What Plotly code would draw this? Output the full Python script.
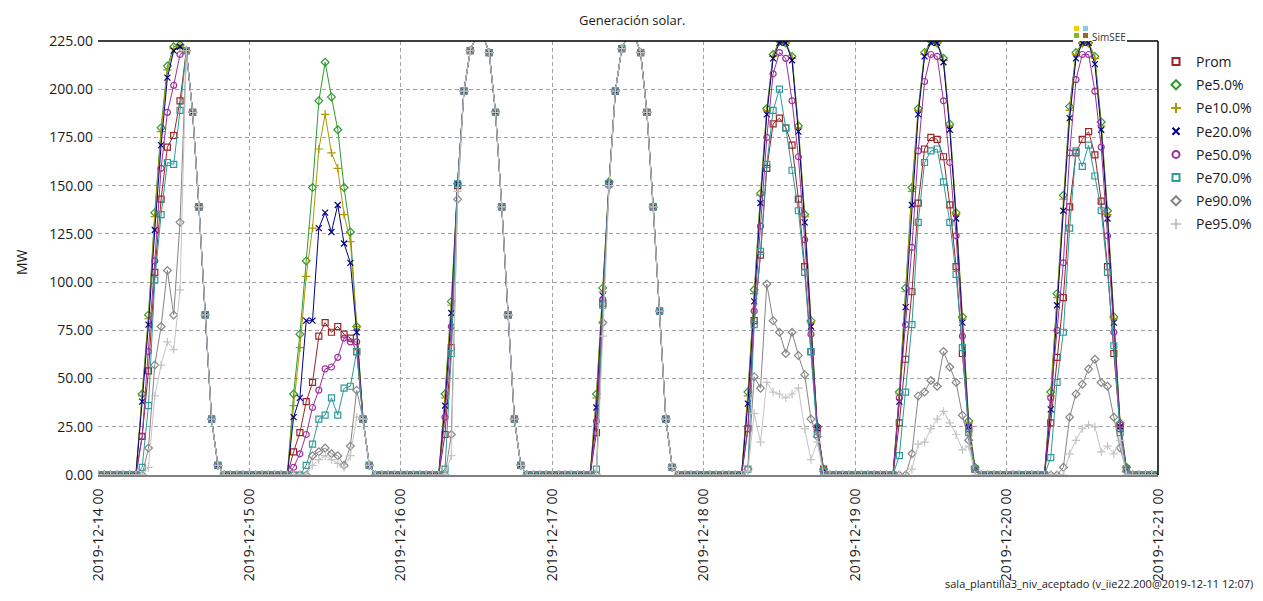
import plotly.graph_objects as go
import pandas as pd

# ---------------- data (MW, hourly) ----------------
DAYS = ["2019-12-14", "2019-12-15", "2019-12-16", "2019-12-17",
        "2019-12-18", "2019-12-19", "2019-12-20"]
END = "2019-12-21"
DAY_HOURS = list(range(6, 21))  # values listed for 06:00 .. 20:00; other hours are 0

prom = [
    [0, 20, 54, 105, 143, 170, 176, 194, 220, 188, 139, 83, 29, 5, 0],
    [0, 12, 22, 38, 48, 72, 79, 74, 77, 73, 71, 64, 29, 5, 0],
    [0, 21, 66, 150, 199, 220, 228, 228, 219, 188, 139, 83, 29, 5, 0],
    [0, 22, 89, 151, 199, 221, 228, 228, 219, 188, 139, 85, 29, 4, 0],
    [0, 24, 80, 114, 159, 182, 185, 180, 171, 143, 108, 64, 24, 3, 0],
    [0, 27, 60, 95, 141, 169, 175, 174, 165, 140, 108, 63, 24, 3, 0],
    [0, 27, 61, 92, 139, 167, 174, 178, 166, 142, 108, 63, 24, 3, 0],
]
pe5 = [
    [0, 42, 83, 136, 180, 212, 222, 223, 220, 188, 139, 83, 29, 5, 0],
    [0, 42, 73, 111, 149, 194, 214, 196, 179, 149, 126, 77, 29, 5, 0],
    [0, 42, 90, 151, 199, 220, 228, 228, 219, 188, 139, 83, 29, 5, 0],
    [0, 42, 97, 152, 199, 221, 228, 228, 219, 188, 139, 85, 29, 4, 0],
    [0, 43, 96, 146, 190, 218, 225, 224, 217, 181, 135, 80, 25, 3, 0],
    [0, 43, 97, 149, 190, 219, 225, 224, 216, 182, 136, 82, 28, 4, 0],
    [0, 43, 94, 145, 191, 219, 224, 224, 217, 183, 137, 82, 27, 4, 0],
]
pe10 = [
    [0, 41, 81, 134, 178, 210, 221, 222, 220, 188, 139, 83, 29, 5, 0],
    [0, 36, 66, 103, 128, 169, 187, 167, 159, 135, 121, 77, 29, 5, 0],
    [0, 40, 88, 151, 199, 220, 228, 228, 219, 188, 139, 83, 29, 5, 0],
    [0, 40, 95, 152, 199, 221, 228, 228, 219, 188, 139, 85, 29, 4, 0],
    [0, 41, 94, 145, 189, 217, 225, 224, 216, 180, 134, 79, 25, 3, 0],
    [0, 42, 95, 147, 189, 218, 225, 224, 215, 181, 135, 81, 27, 4, 0],
    [0, 41, 92, 143, 189, 218, 224, 224, 216, 181, 135, 81, 26, 4, 0],
]
pe20 = [
    [0, 38, 78, 127, 171, 206, 220, 222, 220, 188, 139, 83, 29, 5, 0],
    [0, 30, 40, 80, 80, 128, 136, 126, 140, 120, 110, 74, 29, 5, 0],
    [0, 36, 84, 151, 199, 220, 228, 228, 219, 188, 139, 83, 29, 5, 0],
    [0, 35, 93, 151, 199, 221, 228, 228, 219, 188, 139, 85, 29, 4, 0],
    [0, 37, 90, 141, 187, 216, 224, 224, 215, 178, 131, 77, 24, 2, 0],
    [0, 38, 87, 140, 187, 217, 224, 224, 214, 179, 133, 79, 25, 3, 0],
    [0, 34, 88, 137, 185, 216, 224, 224, 213, 179, 133, 79, 25, 3, 0],
]
pe50 = [
    [0, 20, 64, 111, 159, 188, 202, 218, 220, 188, 139, 83, 29, 5, 0],
    [0, 4, 11, 21, 35, 44, 55, 56, 61, 71, 69, 69, 29, 5, 0],
    [0, 30, 77, 151, 199, 220, 228, 228, 219, 188, 139, 83, 29, 5, 0],
    [0, 28, 91, 151, 199, 221, 228, 228, 219, 188, 139, 85, 29, 4, 0],
    [0, 24, 85, 129, 175, 208, 219, 216, 194, 165, 122, 73, 25, 2, 0],
    [0, 40, 78, 118, 168, 204, 218, 217, 194, 162, 124, 72, 24, 3, 0],
    [0, 40, 75, 110, 167, 205, 218, 218, 199, 170, 124, 74, 26, 3, 0],
]
pe70 = [
    [0, 4, 36, 101, 135, 162, 161, 189, 220, 188, 139, 83, 29, 5, 0],
    [0, 0, 0, 5, 16, 29, 31, 40, 31, 45, 46, 64, 29, 5, 0],
    [0, 3, 63, 151, 199, 220, 228, 228, 219, 188, 139, 83, 29, 5, 0],
    [0, 3, 88, 151, 199, 221, 228, 228, 219, 188, 139, 85, 29, 4, 0],
    [0, 3, 78, 116, 161, 189, 200, 180, 158, 137, 105, 64, 21, 2, 0],
    [0, 10, 43, 78, 131, 162, 168, 169, 152, 131, 104, 66, 22, 3, 0],
    [0, 9, 48, 74, 128, 168, 160, 171, 155, 137, 105, 67, 22, 3, 0],
]
pe90 = [
    [0, 0, 14, 57, 77, 106, 83, 131, 220, 188, 139, 83, 29, 5, 0],
    [0, 0, 0, 0, 10, 12, 14, 11, 10, 5, 15, 44, 29, 5, 0],
    [0, 0, 21, 143, 199, 220, 228, 228, 219, 188, 139, 83, 29, 5, 0],
    [0, 0, 79, 150, 199, 221, 228, 228, 219, 188, 139, 85, 29, 4, 0],
    [0, 3, 51, 45, 99, 80, 74, 63, 74, 62, 52, 29, 20, 2, 0],
    [0, 0, 0, 11, 41, 43, 49, 46, 64, 56, 48, 31, 18, 3, 0],
    [0, 0, 0, 4, 30, 42, 47, 55, 60, 48, 46, 30, 14, 2, 0],
]
pe95 = [
    [0, 0, 4, 41, 57, 69, 65, 96, 220, 188, 139, 83, 29, 5, 0],
    [0, 0, 0, 0, 5, 8, 10, 8, 6, 4, 10, 30, 29, 5, 0],
    [0, 0, 10, 147, 199, 220, 228, 228, 219, 188, 139, 83, 29, 5, 0],
    [0, 0, 72, 150, 199, 221, 228, 228, 219, 188, 139, 85, 29, 4, 0],
    [0, 2, 32, 17, 48, 43, 42, 40, 42, 45, 24, 8, 17, 0, 0],
    [0, 0, 0, 3, 16, 17, 24, 29, 33, 27, 21, 13, 15, 0, 0],
    [0, 0, 0, 0, 11, 18, 24, 26, 25, 12, 15, 11, 18, 0, 0],
]

SERIES = [
    ("Prom", prom, "#9B2323", "square-open"),
    ("Pe5.0%", pe5, "#2F9A2F", "diamond-open"),
    ("Pe10.0%", pe10, "#A89A00", "cross-thin-open"),
    ("Pe20.0%", pe20, "#000080", "x-thin-open"),
    ("Pe50.0%", pe50, "#9C2E9C", "circle-open"),
    ("Pe70.0%", pe70, "#2E9A9A", "square-open"),
    ("Pe90.0%", pe90, "#858585", "diamond-open"),
    ("Pe95.0%", pe95, "#C4C4C4", "cross-thin-open"),
]

TITLE = "Generación solar."
YTITLE = "MW"
FOOTER = "sala_plantilla3_niv_aceptado (v_iie22.200@2019-12-11 12:07)"

# ---------------- build hourly series ----------------
times = pd.date_range(DAYS[0], END, freq="h")


def hourly(day_lists):
    vals = [0.0] * len(times)
    for d, day in enumerate(day_lists):
        for h, v in zip(DAY_HOURS, day):
            vals[d * 24 + h] = v
    return vals


fig = go.Figure()
for name, data, color, sym in SERIES:
    fig.add_trace(go.Scatter(
        x=times, y=hourly(data), mode="lines+markers", name=name,
        line=dict(color=color, width=1),
        marker=dict(symbol=sym, size=6, color=color, line=dict(color=color, width=1.2)),
        showlegend=False, hoverinfo="skip"))
# legend entries (marker only, as in the original)
for name, data, color, sym in SERIES:
    fig.add_trace(go.Scatter(
        x=[None], y=[None], mode="markers", name=name, legendgroup=name,
        marker=dict(symbol=sym, size=7, color=color, line=dict(color=color, width=2))))

# page body has an 8px margin: figure is laid out in (screen - 8) coordinates
OFF = 8
FIG_W, FIG_H = 1263 - OFF, 601 - 2 * OFF
X0, X1, Y0, Y1 = 98, 1158, 41, 475          # plot area in screen pixels
W, H = X1 - X0, Y1 - Y0


def px(x):
    return (x - X0) / W


def py(y):
    return (Y1 - y) / H


grid = dict(showgrid=True, gridcolor="#a0a0a0", gridwidth=1, griddash="4px,3px", zeroline=False)

fig.update_layout(
    width=FIG_W, height=FIG_H,
    margin=dict(l=X0 - OFF, r=FIG_W - (X1 - OFF), t=Y0 - OFF, b=FIG_H - (Y1 - OFF),
                pad=0, autoexpand=False),
    paper_bgcolor="white", plot_bgcolor="white",
    font=dict(family="Open Sans", size=14, color="#1a1a1a"),
    xaxis=dict(type="date", range=[DAYS[0], END], tick0=DAYS[0], dtick=86400000,
               tickformat="%Y-%m-%d %H", tickangle=-90, ticks="",
               showline=True, linecolor="#808080", linewidth=2,
               ticklabelstandoff=6, automargin=False, **grid),
    yaxis=dict(range=[0, 225], dtick=25, tickformat=".2f", ticks="",
               showline=False, ticklabelstandoff=4, automargin=False, **grid),
    legend=dict(x=px(1156), y=py(46), xanchor="left", yanchor="top",
                font=dict(size=14), tracegroupgap=2, bgcolor="rgba(0,0,0,0)",
                itemclick=False),
    showlegend=True,
)

shapes = [
    dict(type="line", xref="paper", yref="paper", x0=0, x1=px(1073), y0=1, y1=1,
         line=dict(color="black", width=1.5)),
    dict(type="line", xref="paper", yref="paper", x0=px(1127), x1=1, y0=1, y1=1,
         line=dict(color="black", width=1.5)),
    dict(type="line", xref="paper", yref="paper", x0=1, x1=1, y0=0, y1=1,
         line=dict(color="black", width=1.5)),
]
for (xa, xb, ya, yb, c) in [(1074, 1079, 26, 31, "#F7C815"), (1083, 1088, 26, 31, "#86CBEF"),
                            (1074, 1079, 33, 38, "#7CBA24"), (1083, 1088, 33, 38, "#9A6A1C")]:
    shapes.append(dict(type="rect", xref="paper", yref="paper", x0=px(xa), x1=px(xb),
                       y0=py(yb), y1=py(ya), fillcolor=c, line=dict(width=0), layer="above"))
fig.update_layout(shapes=shapes)

fig.add_annotation(text=TITLE, xref="paper", yref="paper", x=px(632), y=py(20),
                   xanchor="center", yanchor="middle", showarrow=False,
                   font=dict(size=13, color="#1a1a1a"))
fig.add_annotation(text=YTITLE, xref="paper", yref="paper", x=px(22), y=py(262),
                   xanchor="center", yanchor="middle", showarrow=False, textangle=-90,
                   font=dict(size=14, color="#1a1a1a"))
fig.add_annotation(text="SimSEE", xref="paper", yref="paper", x=px(1090), y=py(37),
                   xanchor="left", yanchor="middle", showarrow=False,
                   font=dict(size=10, color="#333333"))
fig.add_annotation(text=FOOTER, xref="paper", yref="paper", x=px(1255), y=py(583),
                   xanchor="right", yanchor="middle", showarrow=False,
                   font=dict(size=11, color="#1a1a1a"))

fig.write_html("out.html")
